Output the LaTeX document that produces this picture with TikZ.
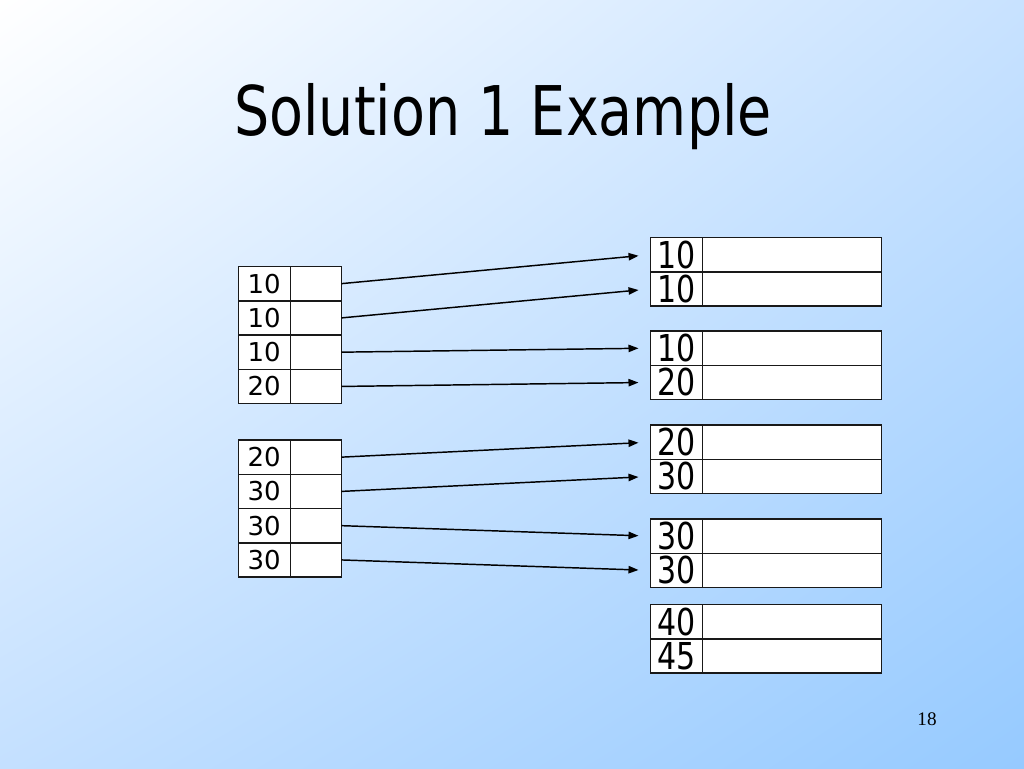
\documentclass[tikz,border=0pt]{standalone}
\usepackage{fontspec}
\setmainfont{DejaVu Sans}
\newfontfamily\slidefont{DejaVu Sans}[FakeStretch=0.81]
\newfontfamily\pagefont{Liberation Serif}
\usetikzlibrary{arrows.meta,positioning,shadings}
\definecolor{skyedge}{RGB}{200,226,255}
\definecolor{skylow}{RGB}{196,224,255}
\definecolor{skydeep}{RGB}{150,202,255}

\begin{document}
\begin{tikzpicture}[x=0.75pt, y=-0.75pt, >={Triangle[length=7.5pt,width=5.5pt]},
    lkey/.style={draw=black!90,fill=white,line width=1.1pt,outer sep=0pt,inner ysep=0pt,inner xsep=6.75pt,
      text width=25.5pt,align=left,minimum height=25.7pt,font=\fontsize{19.5pt}{22pt}\selectfont},
    lptr/.style={draw=black!90,fill=white,line width=1.1pt,outer sep=0pt,inner sep=0pt,
      minimum width=38.25pt,minimum height=25.7pt},
    rkey/.style={lkey,inner xsep=5pt,text width=29pt,font=\slidefont\fontsize{27.8pt}{30pt}\selectfont},
    rdata/.style={lptr,minimum width=134.25pt},
    link/.style={->,line width=1.1pt,shorten >=9pt}]
  % slide background
  \shade[upper left=white,upper right=skyedge,lower left=skylow,lower right=skydeep]
    (0,0) rectangle (1024,768);
  \node[anchor=base,font=\slidefont\fontsize{51.4pt}{60pt}\selectfont] (title) at (503,135) {Solution 1 Example};
  \node[anchor=base,font=\pagefont\fontsize{14.4pt}{17pt}\selectfont] (page) at (927,725) {18};
  % left blocks
    \node[lkey,anchor=north west] (l1k) at (238.5,266.5) {10}; \node[lptr,right=0pt of l1k] (l1p) {};
    \node[lkey,below=0pt of l1k] (l2k) {10}; \node[lptr,right=0pt of l2k] (l2p) {};
    \node[lkey,below=0pt of l2k] (l3k) {10}; \node[lptr,right=0pt of l3k] (l3p) {};
    \node[lkey,below=0pt of l3k] (l4k) {20}; \node[lptr,right=0pt of l4k] (l4p) {};
    \node[lkey,anchor=north west] (l5k) at (238.5,440) {20}; \node[lptr,right=0pt of l5k] (l5p) {};
    \node[lkey,below=0pt of l5k] (l6k) {30}; \node[lptr,right=0pt of l6k] (l6p) {};
    \node[lkey,below=0pt of l6k] (l7k) {30}; \node[lptr,right=0pt of l7k] (l7p) {};
    \node[lkey,below=0pt of l7k] (l8k) {30}; \node[lptr,right=0pt of l8k] (l8p) {};
  % right blocks
    \node[rkey,anchor=north west] (r1k) at (650.5,237.5) {10}; \node[rdata,right=0pt of r1k] (r1d) {};
    \node[rkey,below=0pt of r1k] (r2k) {10}; \node[rdata,right=0pt of r2k] (r2d) {};
    \node[rkey,anchor=north west] (r3k) at (650.5,331) {10}; \node[rdata,right=0pt of r3k] (r3d) {};
    \node[rkey,below=0pt of r3k] (r4k) {20}; \node[rdata,right=0pt of r4k] (r4d) {};
    \node[rkey,anchor=north west] (r5k) at (650.5,425) {20}; \node[rdata,right=0pt of r5k] (r5d) {};
    \node[rkey,below=0pt of r5k] (r6k) {30}; \node[rdata,right=0pt of r6k] (r6d) {};
    \node[rkey,anchor=north west] (r7k) at (650.5,519) {30}; \node[rdata,right=0pt of r7k] (r7d) {};
    \node[rkey,below=0pt of r7k] (r8k) {30}; \node[rdata,right=0pt of r8k] (r8d) {};
    \node[rkey,anchor=north west] (r9k) at (650.5,604.5) {40}; \node[rdata,right=0pt of r9k] (r9d) {};
    \node[rkey,below=0pt of r9k] (r10k) {45}; \node[rdata,right=0pt of r10k] (r10d) {};
  \draw[link] (l1p.east) -- (r1k.west);
  \draw[link] (l2p.east) -- (r2k.west);
  \draw[link] (l3p.east) -- (r3k.west);
  \draw[link] (l4p.east) -- (r4k.west);
  \draw[link] (l5p.east) -- (r5k.west);
  \draw[link] (l6p.east) -- (r6k.west);
  \draw[link] (l7p.east) -- (r7k.west);
  \draw[link] (l8p.east) -- (r8k.west);
\end{tikzpicture}
\end{document}
